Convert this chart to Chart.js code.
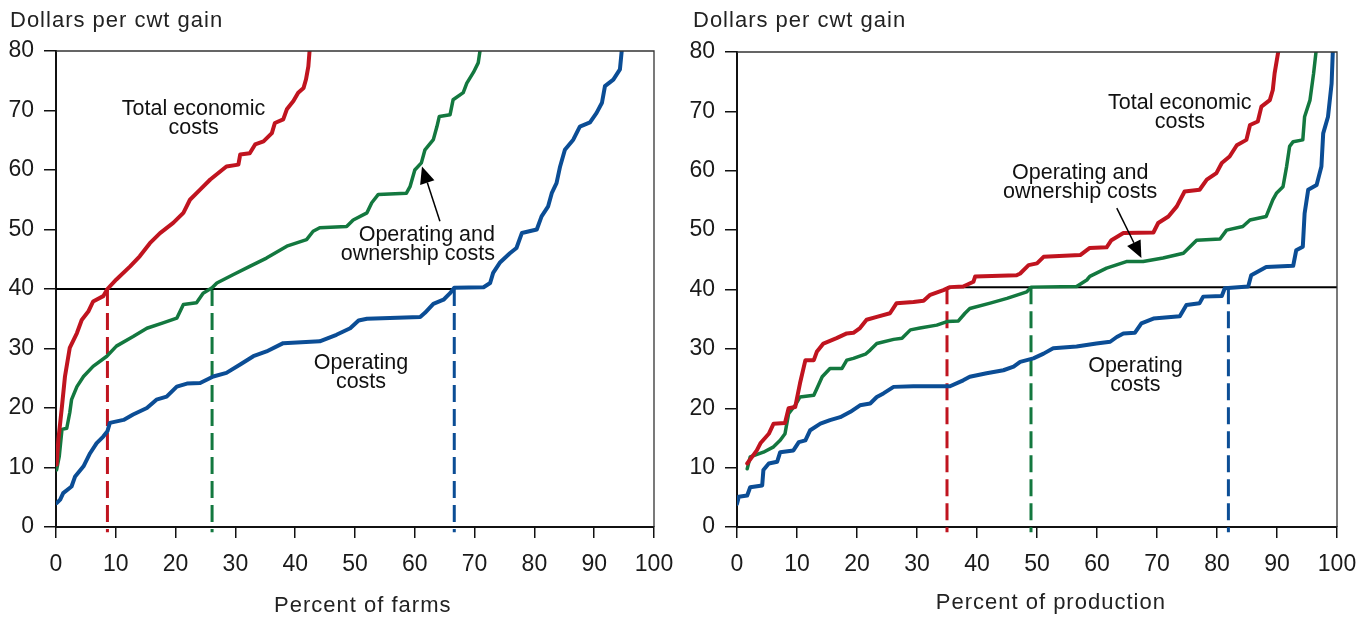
<!DOCTYPE html>
<html>
<head>
<meta charset="utf-8">
<script src="https://cdn.jsdelivr.net/npm/chart.js@4"></script>
<style>
  html, body { margin: 0; padding: 0; background: #fff; }
  #wrap { position: relative; width: 1365px; height: 617px; overflow: hidden; }
  canvas { position: absolute; top: 0; }
  #farms { left: 0; }
  #production { left: 682px; }
</style>
</head>
<body>
<div id="wrap">
  <canvas id="farms" width="682" height="617"></canvas>
  <canvas id="production" width="683" height="617"></canvas>
</div>
<script>
// Cumulative cost curves: [percent, dollars per cwt gain]
const farmsTotalEconomic = [
  [0.1,10.5],[0.4,14.7],[1.0,20.3],[1.5,25.3],[2.3,30.1],[3.5,32.6],[4.3,34.8],[5.4,36.2],[6.2,37.9],
  [7.9,38.8],[8.6,40.0],[10.1,41.6],[12.4,43.8],[14.0,45.5],[15.7,47.7],[17.4,49.4],[19.6,51.1],
  [21.3,52.8],[22.4,55.0],[24.1,56.7],[25.8,58.4],[28.5,60.6],[30.5,60.9],[30.8,62.6],[32.4,62.8],
  [33.3,64.3],[34.7,64.8],[36.1,66.2],[36.6,67.9],[38.0,68.5],[38.6,70.2],[39.7,71.6],[40.5,73.0],
  [41.4,73.8],[41.8,75.2],[42.2,77.4],[42.4,80]
];
const farmsOperOwnership = [
  [0.1,9.6],[0.55,11.9],[1.0,16.4],[1.8,16.6],[2.3,19.2],[2.6,21.4],[3.5,23.6],[4.6,25.3],[6.2,27.0],
  [8.5,28.7],[10.1,30.4],[12.9,32.0],[15.2,33.4],[17.9,34.3],[20.2,35.1],[21.3,37.4],[23.5,37.7],
  [24.6,39.3],[26.1,40.2],[26.9,41.0],[29.6,42.4],[32.4,43.8],[35.2,45.2],[38.6,47.2],[41.9,48.3],
  [43.0,49.7],[44.1,50.3],[48.6,50.5],[49.7,51.6],[52.0,52.8],[52.8,54.5],[53.9,55.9],[58.6,56.1],
  [59.2,57.2],[60.0,60.0],[61.1,61.2],[61.7,63.4],[63.1,65.1],[63.7,67.3],[64.1,69.0],[65.9,69.3],
  [66.4,71.8],[68.1,73.0],[68.7,74.6],[69.8,76.4],[70.6,78.0],[70.9,80]
];
const farmsOperating = [
  [0.1,4.0],[0.7,4.6],[1.2,5.7],[2.6,6.8],[3.2,8.5],[4.6,10.2],[5.7,12.4],[6.8,14.1],[7.9,15.2],
  [8.6,16.1],[9.0,17.5],[11.3,18.0],[12.9,18.9],[15.2,20.0],[16.8,21.4],[18.5,21.9],[20.2,23.6],
  [21.9,24.1],[24.1,24.2],[26.3,25.3],[28.5,25.9],[30.8,27.3],[33.0,28.7],[35.2,29.5],[38.0,30.9],
  [44.1,31.2],[46.9,32.3],[49.2,33.4],[50.6,34.7],[52.0,35.0],[60.9,35.3],[61.7,36.0],[63.1,37.5],
  [64.8,38.2],[65.9,39.3],[66.6,40.2],[71.5,40.3],[72.6,41.0],[73.1,42.7],[74.2,44.4],[75.9,46.0],
  [77.0,46.9],[77.9,49.4],[80.4,50.0],[81.2,52.2],[82.3,53.9],[82.9,56.1],[83.7,57.8],[84.3,60.6],
  [85.1,63.4],[86.5,65.1],[87.6,67.3],[89.3,68.0],[90.4,69.6],[91.3,71.3],[91.8,74.1],[93.2,75.2],
  [94.3,76.9],[94.6,80]
];

const prodTotalEconomic = [
  [1.7,10.7],[3.3,12.9],[3.9,14.1],[5.3,15.7],[6.1,17.4],[8.0,17.5],[8.6,20.0],[9.7,20.2],[10.5,24.2],
  [11.4,28.1],[12.8,28.1],[13.3,29.5],[14.4,30.9],[16.6,31.8],[18.3,32.6],[19.4,32.7],[20.5,33.5],
  [21.6,34.9],[23.3,35.4],[25.5,36.0],[26.6,37.7],[29.4,37.9],[31.1,38.1],[32.2,39.1],[34.4,39.9],
  [35.5,40.4],[37.7,40.5],[39.4,41.3],[39.7,42.2],[46.6,42.4],[47.2,42.7],[48.6,44.1],[50.0,44.4],
  [51.1,45.5],[57.2,45.8],[58.8,47.0],[61.6,47.1],[62.4,48.3],[64.4,49.5],[69.4,49.6],[70.2,51.2],
  [71.9,52.3],[73.3,54.0],[74.6,56.5],[77.1,56.8],[78.3,58.5],[79.9,59.6],[80.8,61.3],[82.1,62.4],
  [83.3,64.3],[84.9,65.2],[85.5,67.7],[86.8,68.3],[87.4,70.8],[88.8,71.9],[89.3,73.6],[89.6,76.4],
  [90.2,80]
];
const prodOperOwnership = [
  [1.7,9.8],[2.2,11.8],[4.4,12.6],[6.1,13.5],[7.2,14.6],[8.0,15.7],[8.6,19.1],[9.7,20.5],[10.5,21.9],
  [12.8,22.2],[13.3,23.3],[14.2,25.3],[15.5,26.7],[17.5,26.7],[18.3,28.1],[19.4,28.4],[21.4,29.1],
  [22.2,29.8],[23.3,30.9],[26.1,31.6],[27.5,31.8],[28.9,33.2],[30.5,33.5],[33.3,34.0],[35.0,34.6],
  [36.9,34.7],[38.0,36.0],[38.8,36.8],[42.2,37.7],[45.0,38.5],[48.3,39.6],[49.0,40.4],[56.6,40.5],
  [58.3,41.6],[58.8,42.2],[61.6,43.6],[64.9,44.7],[67.7,44.7],[71.0,45.3],[74.4,46.1],[76.6,48.3],
  [80.5,48.5],[81.6,50.0],[84.3,50.6],[85.5,51.7],[88.2,52.3],[89.3,55.1],[89.9,56.2],[91.0,57.3],
  [91.6,60.7],[92.1,64.1],[92.7,64.9],[94.3,65.2],[94.6,69.1],[95.5,71.9],[96.1,76.4],[96.5,80]
];
const prodOperating = [
  [0.0,3.9],[0.3,5.1],[1.7,5.3],[2.2,6.7],[4.2,7.0],[4.4,9.6],[5.3,10.7],[6.7,11.0],[7.2,12.6],
  [9.4,12.9],[10.3,14.3],[11.4,14.6],[12.2,16.3],[13.9,17.4],[15.5,18.0],[17.2,18.5],[18.9,19.4],
  [20.5,20.5],[22.2,20.8],[23.3,21.9],[24.4,22.5],[26.1,23.6],[29.4,23.7],[35.5,23.7],[37.7,24.7],
  [38.8,25.3],[41.6,25.9],[44.4,26.4],[46.1,27.0],[47.2,27.8],[49.4,28.4],[51.1,29.2],[52.7,30.1],
  [56.6,30.4],[59.9,30.9],[62.2,31.2],[63.3,32.0],[64.4,32.6],[66.3,32.7],[67.4,34.3],[69.4,35.1],
  [73.8,35.5],[74.9,37.4],[77.1,37.7],[77.7,38.8],[80.8,38.9],[81.3,40.2],[85.2,40.5],[85.7,42.4],
  [88.2,43.8],[92.7,44.0],[93.2,46.6],[94.3,47.2],[94.6,52.8],[95.2,56.8],[96.6,57.6],[97.4,60.7],
  [97.7,66.3],[98.5,69.1],[99.1,74.7],[99.3,80]
];

// Price level and where each cost curve reaches it
const farmsPriceLevel = 40;
const farmsCrossings = [8.6, 26.1, 66.6];      // total economic, operating+ownership, operating
const prodPriceLevel = 40.4;
const prodCrossings = [35.0, 49.0, 81.9];

const xTicks = [0, 10, 20, 30, 40, 50, 60, 70, 80, 90, 100];
const yTicks = [0, 10, 20, 30, 40, 50, 60, 70, 80];

const RED = '#C0141F', GREEN = '#13783F', BLUE = '#0B4D95';
const FONT = '"Liberation Sans", Arial, Helvetica, sans-serif';

const curve = (data, color, width) => ({
  data, borderColor: color, borderWidth: width, pointRadius: 0, tension: 0,
  fill: false, borderJoinStyle: 'round', borderCapStyle: 'round'
});
const dropLine = (x, top, color) => ({
  data: [[x, top], [x, -0.9]], borderColor: color, borderWidth: 3,
  borderDash: [17, 7], pointRadius: 0, clip: false, fill: false
});
const levelLine = (x0, x1, y) => ({
  data: [[x0, y], [x1, y]], borderColor: '#000', borderWidth: 2, pointRadius: 0, fill: false
});

// Frame, curve labels, pointer arrow and axis captions
const costAnnotations = {
  id: 'costAnnotations',
  afterDatasetsDraw(chart, args, opts) {
    const { ctx, chartArea: a, scales: { x, y } } = chart;
    ctx.save();
    ctx.strokeStyle = '#333';
    ctx.lineWidth = 1.3;
    ctx.beginPath();
    ctx.moveTo(a.left, a.top);
    ctx.lineTo(a.right, a.top);
    ctx.lineTo(a.right, a.bottom);
    ctx.stroke();

    ctx.fillStyle = '#111';
    ctx.font = '21.5px ' + FONT;
    ctx.textBaseline = 'middle';
    for (const lab of opts.labels) {
      ctx.textAlign = lab.align;
      const px = x.getPixelForValue(lab.x), py = y.getPixelForValue(lab.y);
      lab.lines.forEach((t, i) => ctx.fillText(t, px, py + i * 19));
    }

    const ar = opts.arrow;
    const tx = x.getPixelForValue(ar.from[0]), ty = y.getPixelForValue(ar.from[1]);
    const hx = x.getPixelForValue(ar.to[0]), hy = y.getPixelForValue(ar.to[1]);
    const ang = Math.atan2(hy - ty, hx - tx), len = 17, half = 7.5;
    const bx = hx - len * Math.cos(ang), by = hy - len * Math.sin(ang);
    ctx.strokeStyle = '#000';
    ctx.lineWidth = 1.5;
    ctx.beginPath(); ctx.moveTo(tx, ty); ctx.lineTo(bx, by); ctx.stroke();
    ctx.fillStyle = '#000';
    ctx.beginPath();
    ctx.moveTo(hx, hy);
    ctx.lineTo(bx + half * Math.sin(ang), by - half * Math.cos(ang));
    ctx.lineTo(bx - half * Math.sin(ang), by + half * Math.cos(ang));
    ctx.closePath(); ctx.fill();

    ctx.fillStyle = '#222';
    ctx.letterSpacing = '1px';
    ctx.font = '22px ' + FONT;
    ctx.textAlign = 'left';
    ctx.fillText('Dollars per cwt gain', opts.yTitleLeft, 21);
    ctx.textAlign = 'center';
    ctx.fillText(opts.xTitle, x.getPixelForValue(opts.xTitleAt), opts.xTitleTop);
    ctx.restore();
  }
};

function axisStyle(tickLen) {
  return {
    grid: { drawOnChartArea: false, drawTicks: true, tickLength: tickLen, color: '#111', lineWidth: 1.5 },
    border: { display: true, color: '#111', width: 2 },
  };
}

function makeChart(id, datasets, frame, annot) {
  return new Chart(document.getElementById(id), {
    type: 'line',
    data: { datasets },
    plugins: [costAnnotations],
    options: {
      responsive: false,
      animation: false,
      devicePixelRatio: 1,
      events: [],
      layout: { padding: { left: 0, top: frame.top, right: frame.right, bottom: 0 } },
      plugins: { legend: { display: false }, tooltip: { enabled: false }, costAnnotations: annot },
      scales: {
        x: Object.assign({
          type: 'linear', min: 0, max: 100,
          afterBuildTicks(s) { s.ticks = xTicks.map(v => ({ value: v })); },
          ticks: { color: '#1a1a1a', padding: 13, maxRotation: 0, font: { family: FONT, size: 23 } },
          afterFit(s) {
            s.height = frame.xAxisHeight;
            s.paddingLeft = 0;
            s.paddingRight = 0;
          }
        }, axisStyle(11)),
        y: Object.assign({
          type: 'linear', min: 0, max: 80,
          afterBuildTicks(s) { s.ticks = yTicks.map(v => ({ value: v })); },
          ticks: { color: '#1a1a1a', padding: 10, font: { family: FONT, size: 23 } },
          afterFit(s) {
            s.width = frame.yAxisWidth;
            s.paddingTop = 0;
            s.paddingBottom = 0;
          }
        }, axisStyle(12))
      }
    }
  });
}

makeChart('farms', [
  curve(farmsTotalEconomic, RED, 4),
  curve(farmsOperOwnership, GREEN, 3.5),
  curve(farmsOperating, BLUE, 4),
  levelLine(0, farmsCrossings[2], farmsPriceLevel),
  dropLine(farmsCrossings[0], farmsPriceLevel, RED),
  dropLine(farmsCrossings[1], farmsPriceLevel, GREEN),
  dropLine(farmsCrossings[2], farmsPriceLevel, BLUE)
], { top: 51, right: 28, xAxisHeight: 90, yAxisWidth: 56 }, {
  labels: [
    { lines: ['Total economic', 'costs'], x: 23.0, y: 70.3, align: 'center' },
    { lines: ['Operating and', 'ownership costs'], x: 73.4, y: 49.1, align: 'right' },
    { lines: ['Operating', 'costs'], x: 51.0, y: 27.6, align: 'center' }
  ],
  arrow: { from: [64.2, 51.4], to: [61.2, 60.6] },
  xTitle: 'Percent of farms', xTitleAt: 51.3, xTitleTop: 606,
  yTitleLeft: 10
});

makeChart('production', [
  curve(prodTotalEconomic, RED, 4),
  curve(prodOperOwnership, GREEN, 3.5),
  curve(prodOperating, BLUE, 4),
  levelLine(prodCrossings[0], 100, prodPriceLevel),
  dropLine(prodCrossings[0], prodPriceLevel, RED),
  dropLine(prodCrossings[1], prodPriceLevel, GREEN),
  dropLine(prodCrossings[2], prodPriceLevel, BLUE)
], { top: 52, right: 28, xAxisHeight: 90, yAxisWidth: 55 }, {
  labels: [
    { lines: ['Total economic', 'costs'], x: 73.8, y: 71.4, align: 'center' },
    { lines: ['Operating and', 'ownership costs'], x: 57.2, y: 59.6, align: 'center' },
    { lines: ['Operating', 'costs'], x: 66.4, y: 27.1, align: 'center' }
  ],
  arrow: { from: [63.3, 53.7], to: [67.4, 45.3] },
  xTitle: 'Percent of production', xTitleAt: 52.3, xTitleTop: 603,
  yTitleLeft: 11
});
</script>
</body>
</html>
